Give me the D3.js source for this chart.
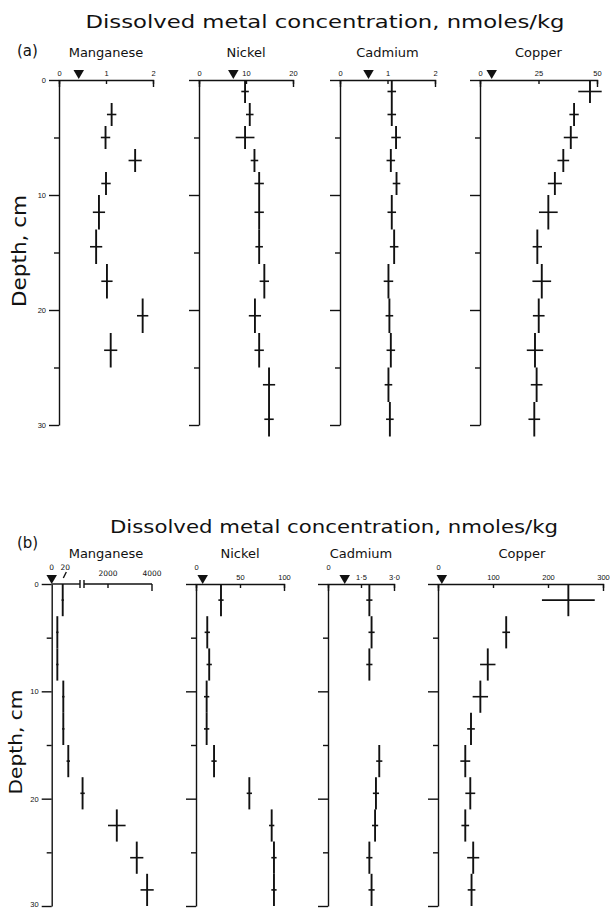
<!DOCTYPE html>
<html>
<head>
<meta charset="utf-8">
<script src="https://cdn.jsdelivr.net/npm/d3@7"></script>
<style>
  body { margin: 0; background: #fff; }
  svg { display: block; font-family: "DejaVu Sans", sans-serif; }
  .tick text { font-size: 7.5px; fill: #111; }
  .domain, .tick line, .ax { stroke: #111; stroke-width: 1.4; fill: none; }
  .bar { stroke: #111; }
</style>
</head>
<body>
<svg id="chart" width="610" height="909"></svg>
<script>
'use strict';

// ---- data ----
const metals = ['Manganese', 'Nickel', 'Cadmium', 'Copper'];
const titleText = 'Dissolved metal concentration, nmoles/kg';

// (a) depth intervals, cm
const depthTopA = [0, 2, 4, 6, 8, 10, 13, 16, 19, 22, 25, 28];
const depthBotA = [2, 4, 6, 8, 10, 13, 16, 19, 22, 25, 28, 31];
const depthMidA = [1, 3, 5, 7, 9, 11.5, 14.5, 17.5, 20.5, 23.5, 26.5, 29.5];

const mnA    = [null, 1.12, 0.99, 1.62, 1.0, 0.85, 0.79, 1.02, 1.78, 1.1, null, null];
const mnAErr = [null, 0.1, 0.1, 0.14, 0.1, 0.13, 0.13, 0.12, 0.12, 0.14, null, null];
const niA    = [9.8, 10.8, 9.8, 11.8, 12.8, 12.8, 12.8, 13.9, 11.9, 12.8, 14.9, 14.9];
const niAErr = [0.8, 0.8, 2, 0.8, 1, 1, 0.8, 1, 1.3, 1, 1.3, 1];
const cdA    = [1.09, 1.09, 1.18, 1.07, 1.19, 1.09, 1.14, 1.02, 1.04, 1.07, 1.02, 1.05];
const cdAErr = [0.09, 0.09, 0.1, 0.09, 0.08, 0.09, 0.09, 0.1, 0.08, 0.09, 0.08, 0.08];
const cuA    = [47, 40.2, 38.8, 35.6, 32, 29.2, 24.5, 26.4, 25.1, 23.5, 24.2, 23.2];
const cuAErr = [5, 2, 3, 2.5, 3, 4, 2, 4, 2.5, 3.5, 2.5, 2.5];
const triA   = [0.42, 7.3, 0.6, 5];
const ticksA = [[0, 1, 2], [0, 10, 20], [0, 1, 2], [0, 25, 50]];

// (b) depth intervals, cm
const depthTopB = [0, 3, 6, 9, 12, 15, 18, 21, 24, 27];
const depthBotB = [3, 6, 9, 12, 15, 18, 21, 24, 27, 30];
const depthMidB = [1.5, 4.5, 7.5, 10.5, 13.5, 16.5, 19.5, 22.5, 25.5, 28.5];

const mnBLow     = [19, 9.7, 9.7, 20, 20, 28.6, null, null, null, null];   // on the 0-20 scale
const mnBLowErr  = [2, 2, 2, 2, 2, 3, null, null, null, null];
const mnBHigh    = [null, null, null, null, null, null, 844, 2400, 3307, 3778]; // on the 0-4000 scale
const mnBHighErr = [null, null, null, null, null, null, 100, 400, 300, 300];
const niB    = [28.4, 12.8, 15, 12.1, 12.1, 20.5, 60.6, 86, 88.6, 88.6];
const niBErr = [3, 3, 3, 3, 3, 3, 3, 3, 3, 3];
const cdB    = [1.88, 1.98, 1.88, null, null, 2.33, 2.18, 2.14, 1.88, 1.98];
const cdBErr = [0.14, 0.14, 0.14, null, null, 0.14, 0.14, 0.14, 0.14, 0.14];
const cuB    = [237, 124, 90.5, 77, 60, 49.6, 58.7, 49.6, 64, 61];
const cuBErr = [48, 7, 14, 14, 7, 9, 9, 7, 11, 7];
const triB   = [0, 7.6, 0.76, 7];
const ticksB = [[0, 20], [0, 50, 100], [0, 1.5, 3.0], [0, 100, 200, 300]];
const ticksBHigh = [2000, 4000];

const svg = d3.select('#chart');

const yA = d3.scaleLinear().domain([0, 30]).range([80, 425]);
const yB = d3.scaleLinear().domain([0, 30]).range([584, 906]);

const depthAxis = (g, x0, y, labels) => {
  const major = d3.axisLeft(y)
    .tickValues([0, 10, 20, 30])
    .tickSize(10)
    .tickSizeOuter(0)
    .tickPadding(3)
    .tickFormat(labels ? d3.format('d') : () => '');
  const ag = g.append('g').attr('transform', `translate(${x0},0)`).call(major);

  const minor = d3.axisLeft(y)
    .tickValues([5, 15, 25])
    .tickSize(5)
    .tickFormat(() => '');
  const mg = g.append('g').attr('transform', `translate(${x0},0)`).call(minor);
  mg.select('.domain').remove();
  return ag;
};

const topAxis = (g, x, y0, ticks, fmt) => {
  const ax = d3.axisTop(x)
    .tickValues(ticks)
    .tickSizeInner(-4)
    .tickSizeOuter(-7)
    .tickPadding(4)
    .tickFormat(fmt || (d => d));
  return g.append('g').attr('transform', `translate(0,${y0})`).call(ax);
};

const triangle = (g, cx, cy) => {
  g.append('path')
    .attr('d', d3.symbol().type(d3.symbolTriangle).size(48)())
    .attr('transform', `translate(${cx},${cy}) rotate(180)`)
    .attr('fill', '#111');
};

const crosses = (g, pts, y) => {
  g.selectAll(null).data(pts).join('line')
    .attr('class', 'bar')
    .attr('stroke-width', 1.9)
    .attr('x1', d => d.sc(d.v)).attr('x2', d => d.sc(d.v))
    .attr('y1', d => y(d.top)).attr('y2', d => y(d.bot));
  g.selectAll(null).data(pts).join('line')
    .attr('class', 'bar')
    .attr('stroke-width', 1.6)
    .attr('x1', d => d.sc(d.v - d.e)).attr('x2', d => d.sc(d.v + d.e))
    .attr('y1', d => y(d.mid)).attr('y2', d => y(d.mid));
};

const makePoints = (vals, errs, sc, tops, bots, mids) =>
  vals.map((v, i) => ({ v: v, e: errs[i], sc: sc, top: tops[i], bot: bots[i], mid: mids[i] }))
      .filter(d => d.v !== null);

const headings = (g, yTitle, titleMid, titleLen, tag, yTag, yNames, namesX) => {
  g.append('text')
    .attr('x', titleMid).attr('y', yTitle)
    .attr('text-anchor', 'middle')
    .attr('font-size', 17)
    .attr('textLength', titleLen)
    .attr('lengthAdjust', 'spacingAndGlyphs')
    .attr('fill', '#111')
    .text(titleText);
  g.append('text')
    .attr('x', 17).attr('y', yTag)
    .attr('font-size', 15)
    .attr('fill', '#111')
    .text(tag);
  metals.forEach((m, i) => {
    g.append('text')
      .attr('x', namesX[i]).attr('y', yNames)
      .attr('text-anchor', 'middle')
      .attr('font-size', 13)
      .attr('fill', '#111')
      .text(m);
  });
};

const depthLabel = (g, x, y, size, len) => {
  g.append('text')
    .attr('transform', `translate(${x},${y}) rotate(-90)`)
    .attr('text-anchor', 'middle')
    .attr('font-size', size)
    .attr('textLength', len)
    .attr('lengthAdjust', 'spacingAndGlyphs')
    .attr('fill', '#111')
    .text('Depth, cm');
};

// ---------------- panel (a) ----------------
const gA = svg.append('g');
const xA = [
  d3.scaleLinear().domain([0, 2]).range([59, 153]),
  d3.scaleLinear().domain([0, 20]).range([199, 293]),
  d3.scaleLinear().domain([0, 2]).range([340, 435]),
  d3.scaleLinear().domain([0, 50]).range([480, 597])
];
const valsA = [mnA, niA, cdA, cuA];
const errsA = [mnAErr, niAErr, cdAErr, cuAErr];

headings(gA, 28, 325, 479, '(a)', 56, 57, xA.map(x => (x.range()[0] + x.range()[1]) / 2));
depthLabel(gA, 26, 251, 19, 112);

xA.forEach((x, i) => {
  depthAxis(gA, x.range()[0], yA, i === 0);
  topAxis(gA, x, yA(0), ticksA[i]);
  triangle(gA, x(triA[i]), 73);
  crosses(gA, makePoints(valsA[i], errsA[i], x, depthTopA, depthBotA, depthMidA), yA);
});

// ---------------- panel (b) ----------------
const gB = svg.append('g');
const xBLow = d3.scaleLinear().domain([0, 20]).range([51.7, 63.3]);
const xBHigh = d3.scaleLinear().domain([0, 4000]).range([64, 152]);
const xB = [
  null,
  d3.scaleLinear().domain([0, 100]).range([196, 284]),
  d3.scaleLinear().domain([0, 3]).range([328, 394]),
  d3.scaleLinear().domain([0, 300]).range([438, 603])
];
const valsB = [null, niB, cdB, cuB];
const errsB = [null, niBErr, cdBErr, cuBErr];

headings(gB, 533, 334, 448, '(b)', 548, 558, [106, 240, 361, 522]);
depthLabel(gB, 22, 742, 18, 105);

// manganese (b): broken top axis, 0-20 then 0-4000
const y0B = yB(0);
const breakL = 80, breakR = 84;
const mnDepthB = depthAxis(gB, xBLow(0), yB, true);
// keep the bottom label inside the page
mnDepthB.selectAll('.tick text').filter(d => d === 30).attr('dy', '0.05em');
gB.append('line').attr('class', 'ax')
  .attr('x1', xBLow(0)).attr('x2', breakL).attr('y1', y0B).attr('y2', y0B);
gB.append('line').attr('class', 'ax')
  .attr('x1', breakR).attr('x2', xBHigh(4000)).attr('y1', y0B).attr('y2', y0B);
[breakL, breakR].forEach(bx => {
  gB.append('line').attr('class', 'ax')
    .attr('x1', bx).attr('x2', bx).attr('y1', y0B - 4).attr('y2', y0B + 4);
});
ticksBHigh.forEach(t => {
  gB.append('line').attr('class', 'ax')
    .attr('x1', xBHigh(t)).attr('x2', xBHigh(t))
    .attr('y1', y0B).attr('y2', y0B + (t === 4000 ? 7 : 4));
  gB.append('text')
    .attr('x', xBHigh(t)).attr('y', y0B - 8)
    .attr('text-anchor', 'middle').attr('font-size', 7.5).attr('fill', '#111')
    .text(t);
});
ticksB[0].forEach(t => {
  gB.append('text')
    .attr('x', xBLow(t) + (t ? 2 : 0)).attr('y', y0B - 14)
    .attr('text-anchor', 'middle').attr('font-size', 7.5).attr('fill', '#111')
    .text(t);
});
gB.append('line').attr('class', 'ax').attr('stroke-width', 1)
  .attr('x1', xBLow(20) + 3).attr('y1', y0B - 12)
  .attr('x2', xBLow(20)).attr('y2', y0B - 6);
triangle(gB, xBLow(triB[0]), 578);
crosses(gB, makePoints(mnBLow, mnBLowErr, xBLow, depthTopB, depthBotB, depthMidB), yB);
crosses(gB, makePoints(mnBHigh, mnBHighErr, xBHigh, depthTopB, depthBotB, depthMidB), yB);

const dotFmt = d => d === 0 ? '0' : d3.format('.1f')(d).replace('.', '\u00b7');
xB.forEach((x, i) => {
  if (!x) return;
  depthAxis(gB, x.range()[0], yB, false);
  const ag = topAxis(gB, x, y0B, ticksB[i], i === 2 ? dotFmt : null);
  ag.selectAll('.tick text').filter(d => d === 0).attr('y', -14);
  triangle(gB, x(triB[i]), 578);
  crosses(gB, makePoints(valsB[i], errsB[i], x, depthTopB, depthBotB, depthMidB), yB);
});
</script>
</body>
</html>
